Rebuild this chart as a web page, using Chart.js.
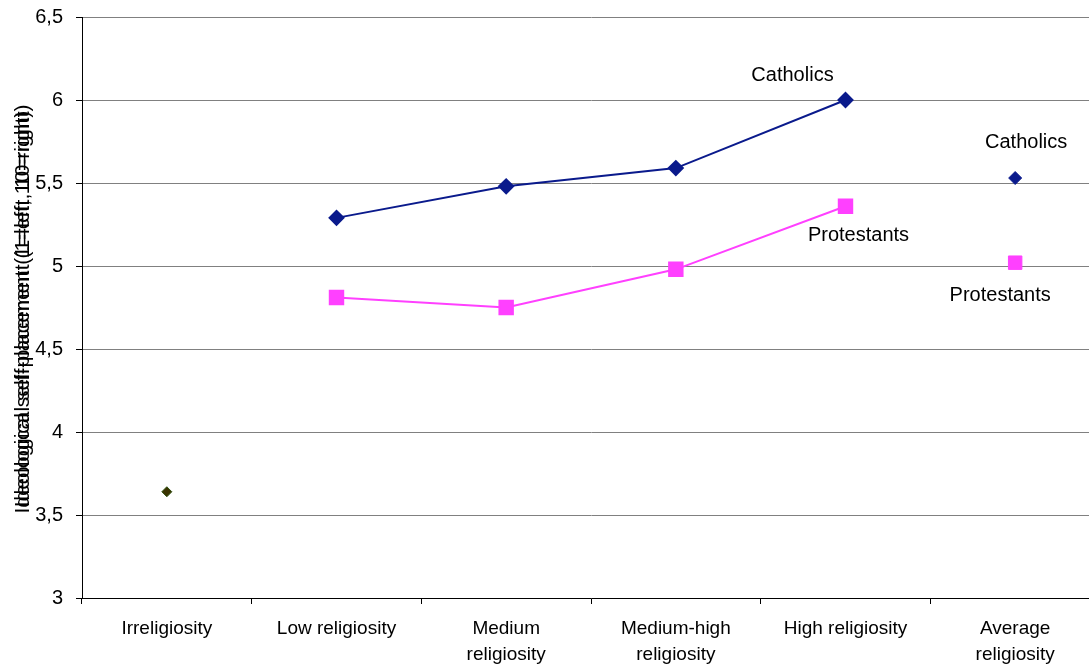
<!DOCTYPE html>
<html>
<head>
<meta charset="utf-8">
<script src="https://cdn.jsdelivr.net/npm/chart.js@4"></script>
<style>
  html, body { margin: 0; padding: 0; background: #fff; overflow: hidden; }
  /* le graphique original deborde a droite de la fenetre */
  #wrap { width: 1100px; height: 665px; position: relative; }
</style>
</head>
<body>
<div id="wrap"><canvas id="myChart"></canvas></div>
<script>
// donnees
const categories = ['Irreligiosity', 'Low religiosity', ['Medium', 'religiosity'], ['Medium-high', 'religiosity'], 'High religiosity', ['Average', 'religiosity']]
const catholics = [null, 5.29, 5.48, 5.59, 6.0, null]
const catholicsAverage = [null, null, null, null, null, 5.53]
const protestants = [null, 4.81, 4.75, 4.98, 5.36, null]
const protestantsAverage = [null, null, null, null, null, 5.02]
const irreligious = [3.64, null, null, null, null, null]
const yTicks = [3, 3.5, 4, 4.5, 5, 5.5, 6, 6.5]
const yTitle = 'Ideological self-placement (1=left, 10=right)'

const navy = '#0a1a8c'
const pink = '#ff40ff'
const font = 'Liberation Sans, Arial, sans-serif'

// etiquettes "Catholics" / "Protestants" a cote des points
const pointLabels = [
  { ds: 0, idx: 4, text: 'Catholics', dx: -53, dy: -25 },
  { ds: 1, idx: 5, text: 'Catholics', dx: 11, dy: -36 },
  { ds: 2, idx: 4, text: 'Protestants', dx: 13, dy: 29 },
  { ds: 3, idx: 5, text: 'Protestants', dx: -15, dy: 33 }
]

const labelPlugin = {
  id: 'labels',
  afterDatasetsDraw(chart) {
    const c = chart.ctx
    c.save()
    c.font = '20px ' + font
    c.fillStyle = '#000'
    c.textAlign = 'center'
    c.textBaseline = 'middle'
    pointLabels.forEach(l => {
      const p = chart.getDatasetMeta(l.ds).data[l.idx]
      c.fillText(l.text, p.x + l.dx, p.y + l.dy)
    })
    // titre de l'axe Y (imprime deux fois, comme sur l'original)
    c.translate(23, 309)
    c.rotate(-Math.PI / 2)
    c.font = '20px ' + font
    c.scale(1.05, 1)
    c.fillText(yTitle, -3, 0)
    c.fillText(yTitle, 3, 0)
    c.restore()
  }
}

let ctx = document.querySelector('#myChart')
new Chart(ctx, {
  type: 'line',
  data: {
    labels: categories,
    datasets: [
      {
        label: 'Catholics',
        data: catholics,
        borderColor: navy,
        backgroundColor: navy,
        borderWidth: 2,
        pointStyle: 'rectRot',
        pointRadius: 7,
        spanGaps: false
      },
      {
        label: 'Catholics average',
        data: catholicsAverage,
        borderColor: navy,
        backgroundColor: navy,
        showLine: false,
        pointStyle: 'rectRot',
        pointRadius: 6.5
      },
      {
        label: 'Protestants',
        data: protestants,
        borderColor: pink,
        backgroundColor: pink,
        borderWidth: 2,
        pointStyle: 'rect',
        pointRadius: 9.5
      },
      {
        label: 'Protestants average',
        data: protestantsAverage,
        borderColor: pink,
        backgroundColor: pink,
        showLine: false,
        pointStyle: 'rect',
        pointRadius: 9.5
      },
      {
        label: 'Irreligious',
        data: irreligious,
        borderColor: '#2f5010',
        backgroundColor: '#3a3300',
        borderWidth: 1,
        showLine: false,
        pointStyle: 'rectRot',
        pointRadius: 5
      }
    ]
  },
  options: {
    responsive: true,
    maintainAspectRatio: false,
    animation: false,
    layout: { autoPadding: false, padding: { top: 17, right: 0, left: 0, bottom: 0 } },
    plugins: {
      legend: { display: false },
      tooltip: { enabled: false }
    },
    scales: {
      x: {
        offset: true,
        grid: {
          offset: true,
          drawOnChartArea: false,
          drawTicks: true,
          tickLength: 6,
          color: '#000'
        },
        border: { color: '#000', width: 1 },
        ticks: {
          color: '#000',
          font: { family: font, size: 19, lineHeight: 1.37 },
          maxRotation: 0,
          autoSkip: false,
          padding: 12
        },
        afterFit(s) {
          s.height = 67
          s.paddingLeft = 0
          s.paddingRight = 0
        }
      },
      y: {
        min: 3,
        max: 6.5,
        afterBuildTicks(s) { s.ticks = yTicks.map(v => ({ value: v })) },
        grid: {
          color: '#808080',
          tickColor: '#000',
          tickLength: 6,
          lineWidth: 1
        },
        border: { color: '#000', width: 1 },
        ticks: {
          color: '#000',
          font: { family: font, size: 20 },
          padding: 13,
          callback: v => String(v).replace('.', ',')
        },
        afterFit(s) {
          s.width = 82
          s.paddingTop = 0
          s.paddingBottom = 0
        }
      }
    }
  },
  plugins: [labelPlugin]
})
</script>
</body>
</html>
